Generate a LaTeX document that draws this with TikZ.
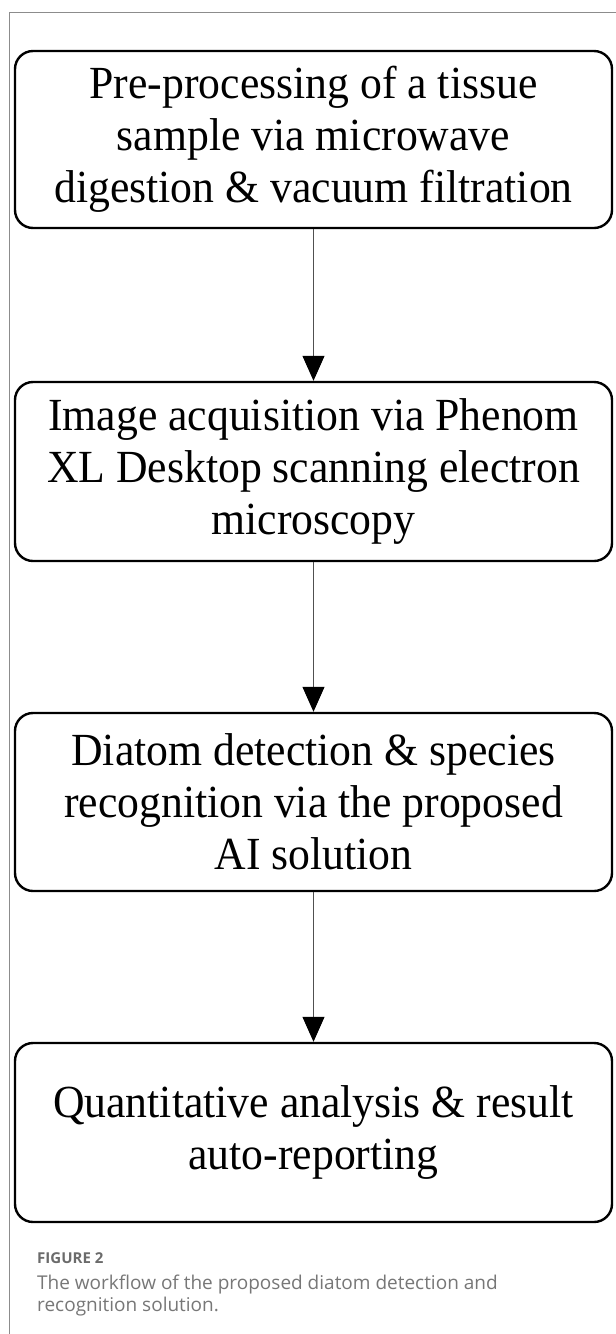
\documentclass[tikz,border=0pt]{standalone}
\usepackage{fontspec}
\setmainfont{Liberation Serif}[FakeStretch=0.95]
\newfontfamily\capfont{Open Sans}
\usetikzlibrary{arrows.meta}
\definecolor{framegray}{HTML}{8C8C8C}
\definecolor{capgray}{HTML}{777777}
\definecolor{linegray}{HTML}{505050}
\begin{document}
\begin{tikzpicture}[x=1pt,y=-1pt,
  stepbox/.style={draw=black, line width=2.4pt, rounded corners=18pt,
    minimum width=597pt, align=center, inner sep=0pt,
    font=\fontsize{46}{52}\selectfont},
  flow/.style={draw=linegray, line width=1pt,
    -{Triangle[width=22pt,length=25pt,fill=black,color=black]}},
  capline/.style={anchor=north west, align=left, inner sep=0pt, text=capgray}]
\useasboundingbox (0,0) rectangle (616,1334);
\fill[white] (0,0) rectangle (616,1334);
\draw[framegray, line width=1pt] (616,12) -- (9,12) -- (9,1334);

\node[stepbox, minimum height=177pt] (b1) at (313.5,139.5)
  {Pre-processing of a tissue\\sample via microwave\\digestion \& vacuum filtration};
\node[stepbox, minimum height=179pt] (b2) at (313.5,471.5)
  {Image acquisition via Phenom\\XL Desktop scanning electron\\microscopy};
\node[stepbox, minimum height=178pt] (b3) at (313.5,802)
  {Diatom detection \& species\\recognition via the proposed\\AI solution};
\node[stepbox, minimum height=179pt] (b4) at (313.5,1132.5)
  {Quantitative analysis \& result\\auto-reporting};

\draw[flow] (b1.south) -- (b2.north);
\draw[flow] (b2.south) -- (b3.north);
\draw[flow] (b3.south) -- (b4.north);

\node[capline, font=\capfont\bfseries\fontsize{15}{17}\selectfont, text=capgray!90!black] (fig) at (37,1252) {FIGURE 2};
\node[capline, font=\capfont\fontsize{19}{22.5}\selectfont] (cap) at (37,1274.5)
  {The workflow of the proposed diatom detection and\\recognition solution.};
\end{tikzpicture}
\end{document}
